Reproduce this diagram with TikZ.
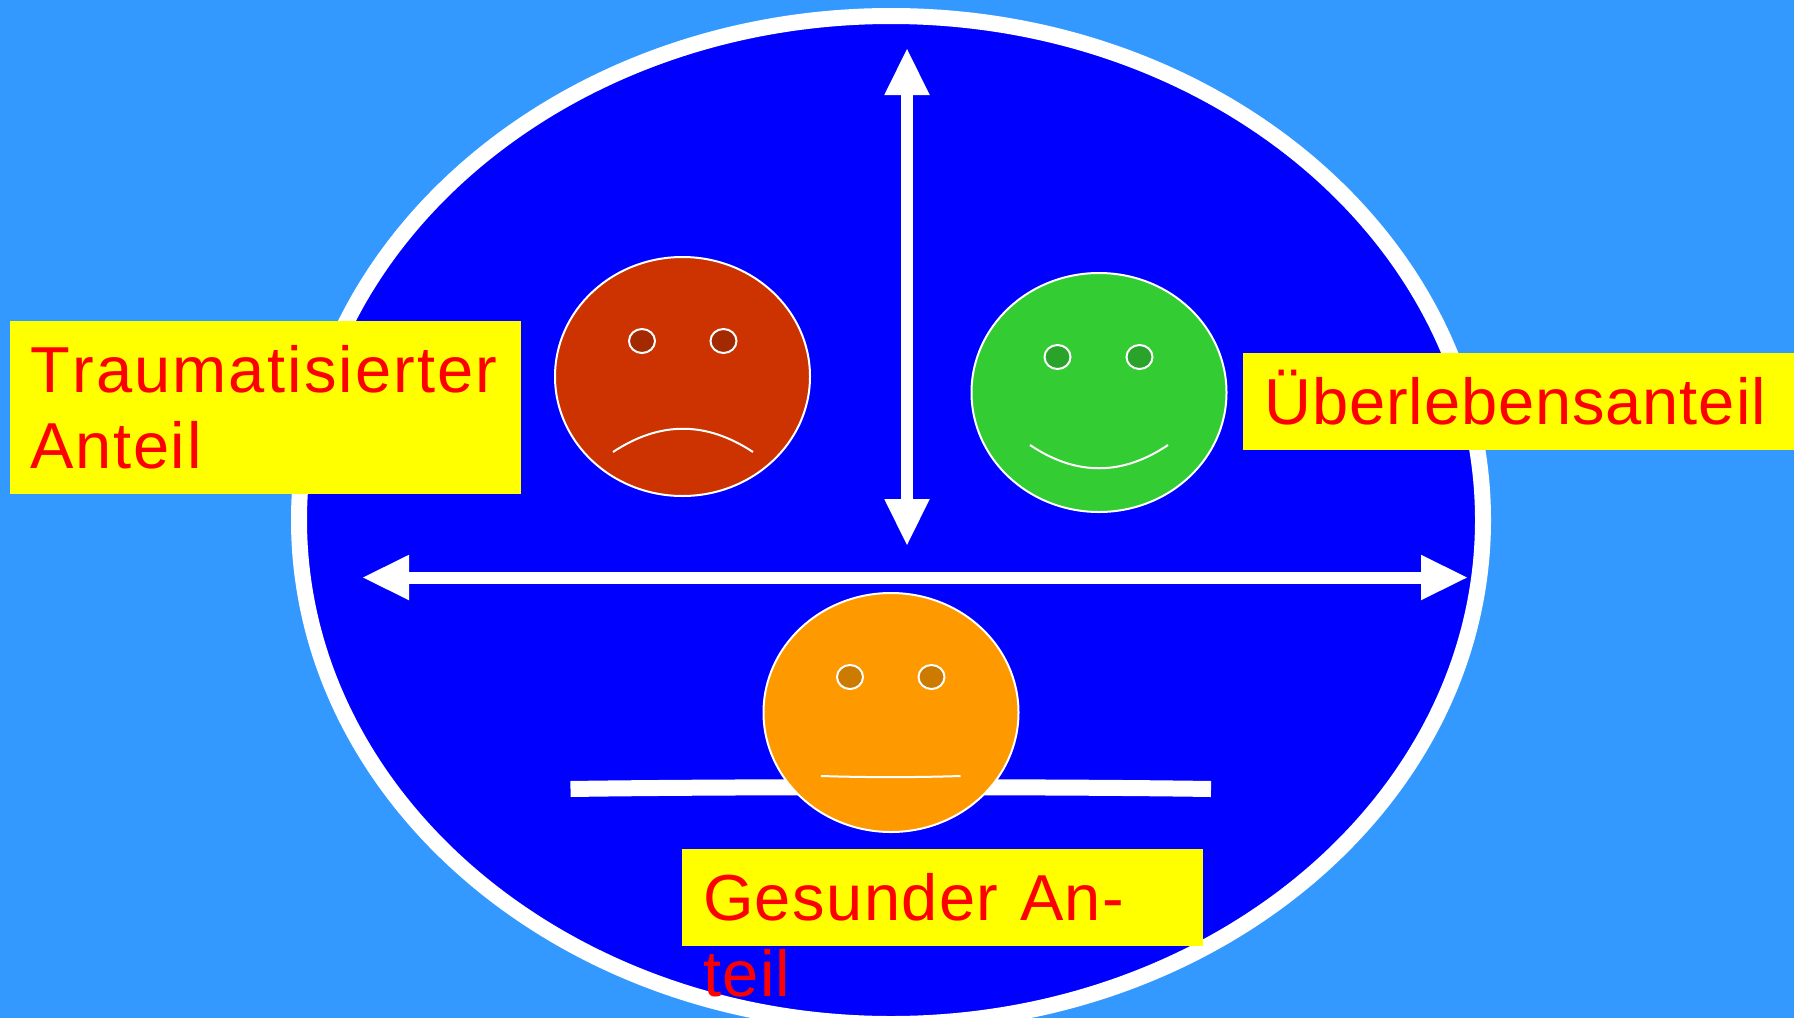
\documentclass[tikz,border=0pt]{standalone}
\usepackage{fontspec}
\setmainfont[Kerning=Off]{Liberation Sans}
\usetikzlibrary{shapes.geometric,arrows.meta}
\definecolor{skybg}{HTML}{3399FF}
\definecolor{deepblue}{HTML}{0000FF}
\definecolor{redface}{HTML}{CC3300}
\definecolor{redeye}{HTML}{A32900}
\definecolor{greenface}{HTML}{33CC33}
\definecolor{greeneye}{HTML}{29A329}
\definecolor{orangeface}{HTML}{FF9900}
\definecolor{orangeeye}{HTML}{CC7A00}
\definecolor{labelyellow}{HTML}{FFFF00}
\definecolor{labelred}{HTML}{FF0000}
\tikzset{
  x=1pt,y=-1pt,
  face/.style={ellipse,draw=white,line width=2pt,inner sep=0pt,outer sep=0pt,minimum width=255pt,minimum height=239pt},
  eye/.style={ellipse,draw=white,line width=2pt,inner sep=0pt,outer sep=0pt,minimum width=26pt,minimum height=24pt},
  mouth/.style={draw=white,line width=2pt},
  labelbox/.style={rectangle,fill=labelyellow,text=labelred,inner ysep=0pt,inner xsep=0pt,outer sep=0pt,font=\fontsize{65}{76}\selectfont},
  doublearrow/.style={draw=white,line width=12pt,{Triangle[length=46pt,width=45.5pt,line width=0pt,fill=white]}-{Triangle[length=46pt,width=45.5pt,line width=0pt,fill=white]}},
}
\begin{document}
\begin{tikzpicture}
\useasboundingbox (0,0) rectangle (1794,1018);
\fill[skybg] (0,0) rectangle (1794,1018);
\node[ellipse,draw=white,fill=deepblue,line width=16pt,inner sep=0pt,outer sep=0pt,minimum width=1184pt,minimum height=1008pt] (ring) at (891,520) {};
% arrows
\coordinate (vtop) at (907,49);
\coordinate (vbot) at (907,545);
\coordinate (hleft) at (363,577.5);
\coordinate (hright) at (1467,577.5);
\draw[doublearrow] (vtop) -- (vbot);
\draw[doublearrow] (hleft) -- (hright);
% bar behind the orange face
\coordinate (barl) at (570.5,789);
\coordinate (barr) at (1211,789);
\draw[white,line width=16pt] (barl) .. controls (730,786.5) and (1050,786.5) .. (barr);
% red face
\node[face,fill=redface] (fr) at (682.5,376.5) {};
\node[eye,fill=redeye] (fre1) at (642,341) {};
\node[eye,fill=redeye] (fre2) at (723.5,341) {};
\coordinate (frm1) at (613,452);
\coordinate (frm2) at (753,452);
\draw[mouth] (frm1) .. controls (660,421) and (706,421) .. (frm2);
% green face
\node[face,fill=greenface] (fg) at (1099,392.5) {};
\node[eye,fill=greeneye] (fge1) at (1057.5,357) {};
\node[eye,fill=greeneye] (fge2) at (1139.5,357) {};
\coordinate (fgm1) at (1030,445);
\coordinate (fgm2) at (1168,445);
\draw[mouth] (fgm1) .. controls (1076,476) and (1122,476) .. (fgm2);
% orange face
\node[face,fill=orangeface] (fo) at (891,712.5) {};
\node[eye,fill=orangeeye] (foe1) at (850,677) {};
\node[eye,fill=orangeeye] (foe2) at (931.5,677) {};
\coordinate (fom1) at (821,776);
\coordinate (fom2) at (960.5,776);
\draw[mouth] (fom1) .. controls (867,777.5) and (914,777.5) .. (fom2);
% labels
\node[labelbox,minimum width=511pt,minimum height=173pt,text width=470pt,align=left] (lt) at (265.5,407.5)
  {\addfontfeature{LetterSpace=3.3}Traumatisierter\\\addfontfeature{LetterSpace=2.6}Anteil};
\node[labelbox,minimum width=551pt,minimum height=97pt,text width=508pt,text height=45pt,text depth=0pt,align=left] (lu) at (1518.5,401.5)
  {\addfontfeature{LetterSpace=1.4}Überlebensanteil};
\node[labelbox,minimum width=521pt,minimum height=97pt,text width=479pt,text height=46.4pt,text depth=0pt,align=left] (lg) at (942.5,897.5)
  {\addfontfeature{LetterSpace=2.2}Gesunder Anteil};
\end{tikzpicture}
\end{document}
